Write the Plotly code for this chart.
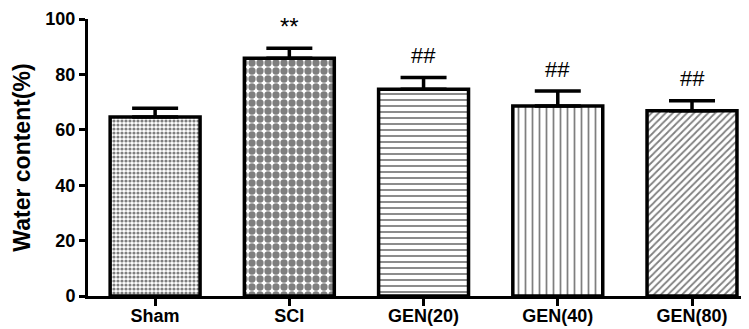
import plotly.graph_objects as go

categories = ["Sham", "SCI", "GEN(20)", "GEN(40)", "GEN(80)"]
means = [64.6, 85.8, 74.6, 68.6, 66.9]
errors = [3.2, 3.6, 4.3, 5.4, 3.6]
marks = ["", "**", "##", "##", "##"]
patterns = [".", ".", "-", "|", "/"]
pat_sizes = [4, 8, 6, 7, 5]
pat_solid = [0.5, 0.65, 0.3, 0.25, 0.35]

fig = go.Figure()
fig.add_trace(go.Bar(
    x=list(range(len(categories))), y=means, width=0.67,
    marker=dict(color="white", line=dict(color="black", width=3.5),
                pattern=dict(shape=patterns, size=pat_sizes, solidity=pat_solid,
                             fgcolor="black", bgcolor="white", fillmode="overlay")),
    error_y=dict(type="data", symmetric=False, array=errors, arrayminus=[0]*5,
                 color="black", thickness=3.5, width=23),
    cliponaxis=False,
))

for i, (m, e, t) in enumerate(zip(means, errors, marks)):
    if t:
        star = t == "**"
        fig.add_annotation(x=i, y=m + e, text=t, showarrow=False,
                           yshift=22 if star else 22,
                           font=dict(size=24 if star else 22, family="Liberation Sans",
                                     color="black"))

# page body has an 8px default margin, so the figure is sized to fit inside it
fig.update_layout(
    width=741, height=321, plot_bgcolor="white", paper_bgcolor="white",
    margin=dict(l=80, r=8, t=11, b=33), showlegend=False,
    font=dict(family="Liberation Sans", color="black"),
)
fig.update_xaxes(range=[-0.5, 4.365], tickmode="array", tickvals=list(range(5)),
                 ticktext=[f"<b>{c}</b>" for c in categories], ticks="outside",
                 ticklen=7, tickwidth=2.5, tickcolor="black", showline=True,
                 linecolor="black", linewidth=3, showgrid=False, zeroline=False,
                 tickfont=dict(size=18), automargin=False, ticklabelstandoff=-6)
fig.update_yaxes(range=[0, 100], tickvals=[0, 20, 40, 60, 80, 100],
                 ticktext=[f"<b>{v}</b>" for v in [0, 20, 40, 60, 80, 100]],
                 ticks="outside", ticklen=6, tickwidth=2.5, tickcolor="black",
                 showline=True, linecolor="black", linewidth=3, showgrid=False,
                 zeroline=False, tickfont=dict(size=18), automargin=False,
                 title=dict(text="<b>Water content(%)</b>", font=dict(size=23), standoff=9))

fig.write_html("out.html")
